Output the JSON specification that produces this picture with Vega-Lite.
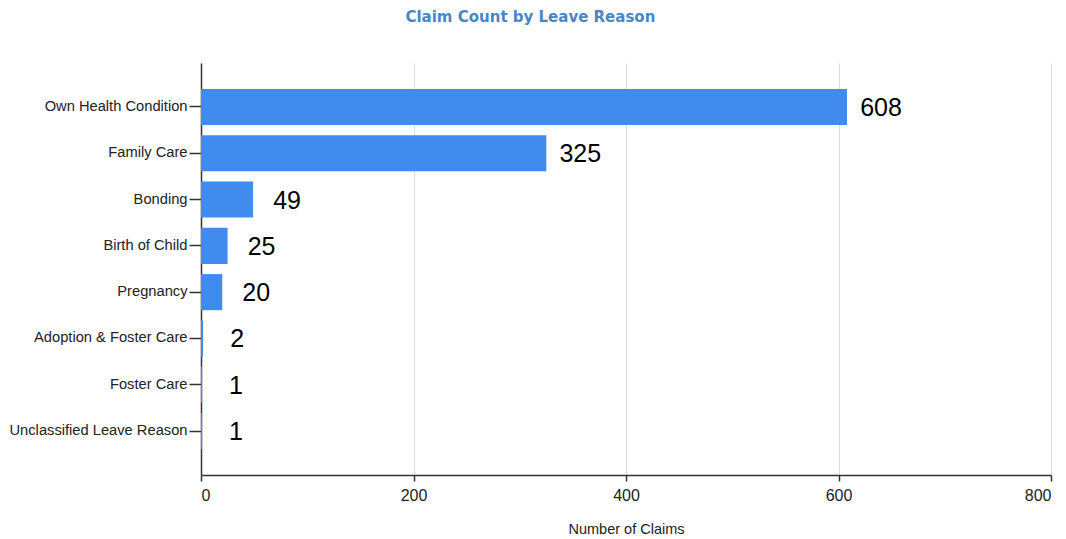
{
  "$schema": "https://vega.github.io/schema/vega-lite/v6.json",
  "width": 850,
  "height": 412,
  "autosize": {"type": "none"},
  "padding": {"left": 201, "top": 63, "right": 15, "bottom": 64},
  "background": "white",
  "title": {
    "text": "Claim Count by Leave Reason",
    "anchor": "middle",
    "frame": "bounds",
    "color": "#4a86c4",
    "font": "DejaVu Sans",
    "fontSize": 15,
    "fontWeight": "bold",
    "baseline": "bottom",
    "offset": 23
  },
  "data": {
    "values": [
      {"reason": "Own Health Condition", "claims": 608},
      {"reason": "Family Care", "claims": 325},
      {"reason": "Bonding", "claims": 49},
      {"reason": "Birth of Child", "claims": 25},
      {"reason": "Pregnancy", "claims": 20},
      {"reason": "Adoption & Foster Care", "claims": 2},
      {"reason": "Foster Care", "claims": 1},
      {"reason": "Unclassified Leave Reason", "claims": 1}
    ]
  },
  "encoding": {
    "y": {
      "field": "reason",
      "type": "nominal",
      "sort": null,
      "scale": {"paddingInner": 0.22, "paddingOuter": 0.56},
      "axis": {
        "title": null,
        "labelFont": "Liberation Sans, Arial",
        "labelFontSize": 14.7,
        "labelLimit": 300,
        "labelColor": "#222222",
        "labelPadding": 2,
        "tickSize": 12,
        "tickColor": "#333333",
        "tickWidth": 1.5,
        "domainColor": "#333333",
        "domainWidth": 1.5,
        "grid": false
      }
    },
    "x": {
      "field": "claims",
      "type": "quantitative",
      "scale": {"domain": [0, 800], "nice": false},
      "axis": {
        "title": "Number of Claims",
        "values": [0, 200, 400, 600, 800],
        "titleFont": "Liberation Sans, Arial",
        "titleFontSize": 14.5,
        "titleFontWeight": "normal",
        "titleColor": "#222222",
        "titlePadding": 19,
        "labelFont": "Liberation Sans, Arial",
        "labelFontSize": 16,
        "labelColor": "#222222",
        "labelPadding": 6,
        "tickSize": 6,
        "tickColor": "#333333",
        "tickWidth": 1.5,
        "domainColor": "#333333",
        "domainWidth": 1.5,
        "grid": true,
        "gridColor": "#dddddd",
        "gridWidth": 1
      }
    }
  },
  "layer": [
    {"mark": {"type": "bar", "color": "#418bef"}},
    {
      "mark": {
        "type": "text",
        "align": "center",
        "baseline": "middle",
        "dx": 34,
        "dy": 1,
        "font": "Liberation Sans, Arial",
        "fontSize": 25,
        "color": "#000000"
      },
      "encoding": {"text": {"field": "claims", "type": "quantitative"}}
    }
  ],
  "config": {"view": {"stroke": null}}
}
